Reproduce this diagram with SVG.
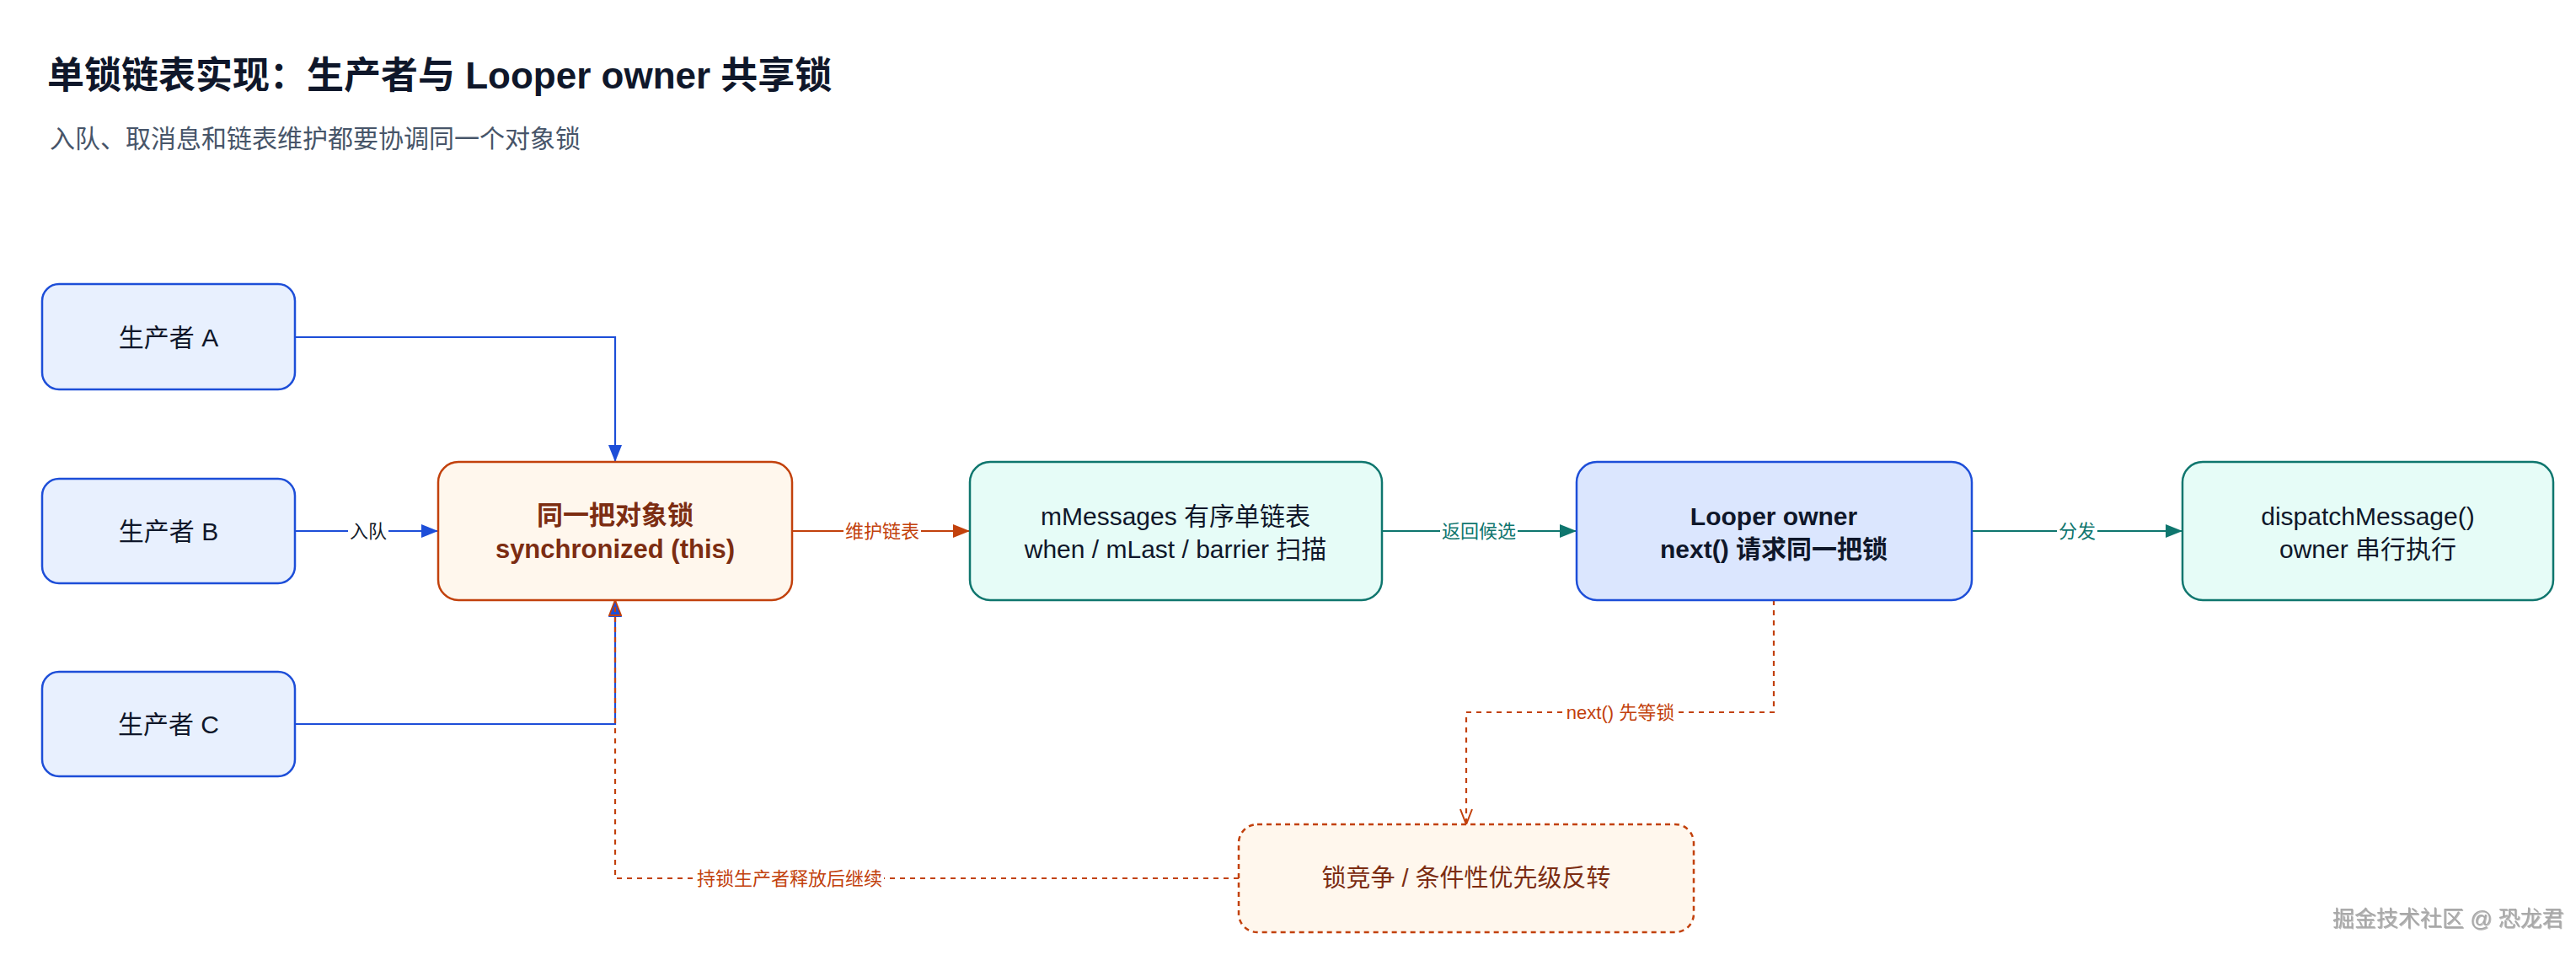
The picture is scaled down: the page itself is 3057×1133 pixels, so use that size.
<svg xmlns="http://www.w3.org/2000/svg" width="3057" height="1133" viewBox="0 0 3057 1133">
<style>
text{font-family:"Liberation Sans","Noto Sans CJK SC",sans-serif;}
.title{font-size:44px;font-weight:bold;fill:#0f172a;}
.sub{font-size:30px;fill:#475569;}
.node{stroke-width:2.5;}
.blue{fill:#e8f0fe;stroke:#1d4ed8;}
.orange{fill:#fff7ed;stroke:#c2410c;}
.teal{fill:#e6fcf7;stroke:#0f766e;}
.looper{fill:#dbe6fe;stroke:#1d4ed8;}
.dashbox{fill:#fff7ed;stroke:#c2410c;stroke-dasharray:6 5;}
.t{font-size:30px;fill:#0f172a;text-anchor:middle;dominant-baseline:central;}
.tb{font-weight:bold;}
.big{font-size:31px;}
.tor{fill:#7c2d12;}
.small{font-size:29px;}
.edge{fill:none;stroke-width:2.2;}
.eb{stroke:#1d4ed8;}
.eo{stroke:#c2410c;}
.et{stroke:#0f766e;}
.ed{stroke:#c2410c;stroke-dasharray:6 6;}
.lbg{fill:#ffffff;}
.lbl{font-size:22px;text-anchor:middle;dominant-baseline:central;}
.wm{font-size:26px;fill:#a8a8a8;}
</style>
<defs>
<marker id="ab" viewBox="0 0 20 16" refX="20" refY="8" markerWidth="20" markerHeight="16" markerUnits="userSpaceOnUse" orient="auto"><path d="M0,0 L20,8 L0,16 Z" fill="#1d4ed8"/></marker>
<marker id="ao" viewBox="0 0 20 16" refX="20" refY="8" markerWidth="20" markerHeight="16" markerUnits="userSpaceOnUse" orient="auto"><path d="M0,0 L20,8 L0,16 Z" fill="#c2410c"/></marker>
<marker id="at" viewBox="0 0 20 16" refX="20" refY="8" markerWidth="20" markerHeight="16" markerUnits="userSpaceOnUse" orient="auto"><path d="M0,0 L20,8 L0,16 Z" fill="#0f766e"/></marker>
<marker id="av" viewBox="0 0 20 16" refX="19" refY="8" markerWidth="20" markerHeight="16" markerUnits="userSpaceOnUse" orient="auto"><path d="M1,1 L19,8 L1,15" fill="none" stroke="#c2410c" stroke-width="2"/></marker>
<marker id="atri" viewBox="0 0 20 16" refX="19" refY="8" markerWidth="20" markerHeight="16" markerUnits="userSpaceOnUse" orient="auto"><path d="M1,1 L19,8 L1,15 Z" fill="none" stroke="#c2410c" stroke-width="1.8"/></marker>
<filter id="sh" x="-5%" y="-20%" width="110%" height="140%"><feDropShadow dx="1" dy="1" stdDeviation="0.5" flood-color="#666" flood-opacity="0.45"/></filter>
</defs>
<rect x="0" y="0" width="3057" height="1133" fill="#ffffff"/>
<text class="title" x="56" y="105">单锁链表实现：生产者与 Looper owner 共享锁</text>
<text class="sub" x="59" y="175">入队、取消息和链表维护都要协调同一个对象锁</text>

<g id="connectors">
<path class="edge eb" d="M350,400 H730 V548" marker-end="url(#ab)"/>
<path class="edge eb" d="M350,630 H520" marker-end="url(#ab)"/>
<path class="edge eb" d="M350,859 H730 V712" marker-end="url(#ab)"/>
<path class="edge eo" d="M940,630 H1151" marker-end="url(#ao)"/>
<path class="edge et" d="M1640,630 H1871" marker-end="url(#at)"/>
<path class="edge et" d="M2340,630 H2590" marker-end="url(#at)"/>
<path class="edge ed" d="M2105,712 V845 H1740 V978" marker-end="url(#av)"/>
<path class="edge ed" d="M1470,1042 H730 V712" marker-end="url(#atri)"/>
<rect class="lbg" x="413" y="617" width="48" height="26"/>
<text class="lbl" x="437" y="630" fill="#111827">入队</text>
<rect class="lbg" x="1001" y="617" width="92" height="26"/>
<text class="lbl" x="1047" y="630" fill="#c2410c">维护链表</text>
<rect class="lbg" x="1709" y="617" width="92" height="26"/>
<text class="lbl" x="1755" y="630" fill="#0f766e">返回候选</text>
<rect class="lbg" x="2441" y="617" width="48" height="26"/>
<text class="lbl" x="2465" y="630" fill="#0f766e">分发</text>
<rect class="lbg" x="1857" y="832" width="132" height="26"/>
<text class="lbl" x="1923" y="845" fill="#c2410c">next() 先等锁</text>
<rect class="lbg" x="825" y="1029" width="224" height="26"/>
<text class="lbl" x="937" y="1042" fill="#c2410c">持锁生产者释放后继续</text>
</g>

<g id="producerA">
<rect class="node blue" x="50" y="337" width="300" height="125" rx="20"/>
<text class="t" x="200" y="400">生产者 A</text>
</g>
<g id="producerB">
<rect class="node blue" x="50" y="568" width="300" height="124" rx="20"/>
<text class="t" x="200" y="630">生产者 B</text>
</g>
<g id="producerC">
<rect class="node blue" x="50" y="797" width="300" height="124" rx="20"/>
<text class="t" x="200" y="859">生产者 C</text>
</g>
<g id="lock">
<rect class="node orange" x="520" y="548" width="420" height="164" rx="24"/>
<text class="t tb tor big" x="730" y="611">同一把对象锁</text>
<text class="t tb tor big" x="730" y="651">synchronized (this)</text>
</g>
<g id="mMessages">
<rect class="node teal" x="1151" y="548" width="489" height="164" rx="24"/>
<text class="t" x="1395" y="612">mMessages 有序单链表</text>
<text class="t" x="1395" y="651">when / mLast / barrier 扫描</text>
</g>
<g id="looper">
<rect class="node looper" x="1871" y="548" width="469" height="164" rx="24"/>
<text class="t tb" x="2105" y="612">Looper owner</text>
<text class="t tb" x="2105" y="651">next() 请求同一把锁</text>
</g>
<g id="dispatch">
<rect class="node teal" x="2590" y="548" width="440" height="164" rx="24"/>
<text class="t" x="2810" y="612">dispatchMessage()</text>
<text class="t" x="2810" y="651">owner 串行执行</text>
</g>
<g id="contention">
<rect class="node dashbox" x="1470" y="978" width="540" height="128" rx="22"/>
<text class="t tor small" x="1740" y="1042">锁竞争 / 条件性优先级反转</text>
</g>

<text class="wm" x="2768" y="1099" filter="url(#sh)">掘金技术社区 @ 恐龙君</text>
</svg>
